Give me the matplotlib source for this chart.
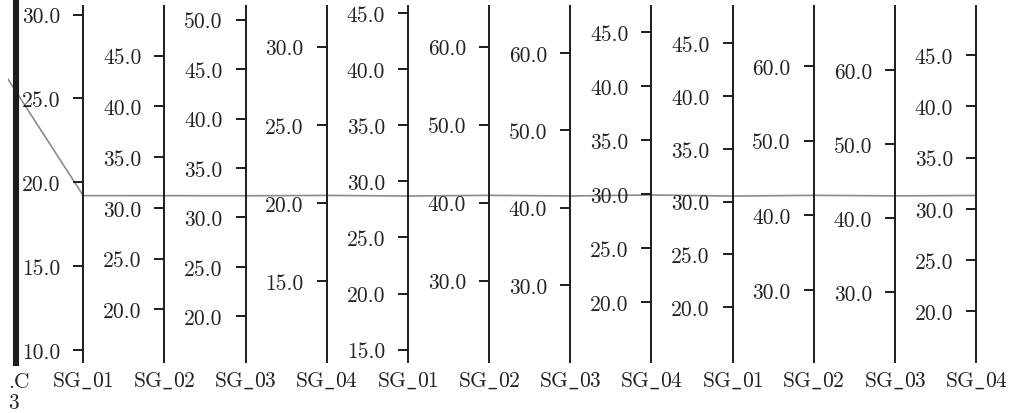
import matplotlib
matplotlib.use("Agg")
import matplotlib.pyplot as plt
from matplotlib.transforms import blended_transform_factory

plt.rcParams['mathtext.fontset'] = 'cm'
plt.rcParams['font.family'] = ['cmr10', 'DejaVu Serif']
plt.rcParams['axes.unicode_minus'] = False

# ---- data -------------------------------------------------------------
first_name = ".C\n3"
first_lo, first_hi, first_value = 0.0, 1.0, 0.82

axis_names = ["SG_01", "SG_02", "SG_03", "SG_04",
              "SG_01", "SG_02", "SG_03", "SG_04",
              "SG_01", "SG_02", "SG_03", "SG_04"]
axis_lo = [9.27, 14.8, 15.37, 9.84, 13.9, 19.58, 20.0, 14.47, 14.82, 20.37, 20.6, 15.06]
axis_hi = [30.52, 49.9, 51.39, 32.6, 45.62, 65.2, 66.1, 47.44, 48.53, 68.0, 68.6, 49.78]
series_values = [19.2, 31.2, 32.19, 20.49, 28.69, 40.94, 41.5, 29.94, 30.53, 42.67, 43.0, 31.3]
axis_ticks = [
    [10, 15, 20, 25, 30],
    [20, 25, 30, 35, 40, 45],
    [20, 25, 30, 35, 40, 45, 50],
    [15, 20, 25, 30],
    [15, 20, 25, 30, 35, 40, 45],
    [30, 40, 50, 60],
    [30, 40, 50, 60],
    [20, 25, 30, 35, 40, 45],
    [20, 25, 30, 35, 40, 45],
    [30, 40, 50, 60],
    [30, 40, 50, 60],
    [20, 25, 30, 35, 40, 45],
]

# ---- layout (pixels) --------------------------------------------------
W, H = 1011, 414
X0, SP = 2.1, 81.16          # pixel x of the first axis, spacing between axes
TOP, BOT = 7, 363            # pixel extent of the vertical axes
HOST_LEFT = 8
BAR_X = 16
FS = 15.5

def x_of_pixel(p):
    return (p - X0) / SP

fig = plt.figure(figsize=(W / 100, H / 100), dpi=100)
bottom = (H - BOT) / H
height = (BOT - TOP) / H

host = fig.add_axes([HOST_LEFT / W, bottom, (W - HOST_LEFT) / W, height])
host.set_xlim(x_of_pixel(HOST_LEFT), x_of_pixel(W))
host.set_ylim(0, 1)
host.axis('off')

# normalised polyline through all axes
norm = [(first_value - first_lo) / (first_hi - first_lo)]
norm += [(v - lo) / (hi - lo) for v, lo, hi in zip(series_values, axis_lo, axis_hi)]
host.plot(range(len(norm)), norm, color='#8c8c8c', lw=1.2, zorder=2)

# heavy bar for the leading categorical axis
host.plot([x_of_pixel(BAR_X)] * 2, [-0.012, 1.02], color='#1c1c1c', lw=4.4,
          solid_capstyle='butt', clip_on=False, zorder=3)

trans = blended_transform_factory(host.transData, host.transAxes)
host.text(0, -0.026, first_name, transform=host.transAxes, ha='left', va='top',
          fontsize=FS, color='#222222', linespacing=1.12)

for i, (name, lo, hi, ticks) in enumerate(zip(axis_names, axis_lo, axis_hi, axis_ticks), start=1):
    px = X0 + i * SP
    ax = fig.add_axes([px / W, bottom, 0.0001, height])
    ax.patch.set_visible(False)
    for side in ('top', 'right', 'bottom'):
        ax.spines[side].set_visible(False)
    ax.spines['left'].set_linewidth(1.4)
    ax.spines['left'].set_color('#1c1c1c')
    ax.set_xticks([])
    ax.set_ylim(lo, hi)
    ax.set_yticks(ticks)
    ax.set_yticklabels([f"{t:.1f}" for t in ticks])
    ax.tick_params(axis='y', direction='out', length=7.5, width=1.4, pad=9,
                   labelsize=FS, color='#1c1c1c', labelcolor='#222222')
    host.text(i, -0.0506, r"$\mathrm{" + name.replace("_", r"\_") + "}$",
              transform=trans, ha='center', va='center', fontsize=FS, color='#222222')

fig.savefig("out.png", dpi=100)
